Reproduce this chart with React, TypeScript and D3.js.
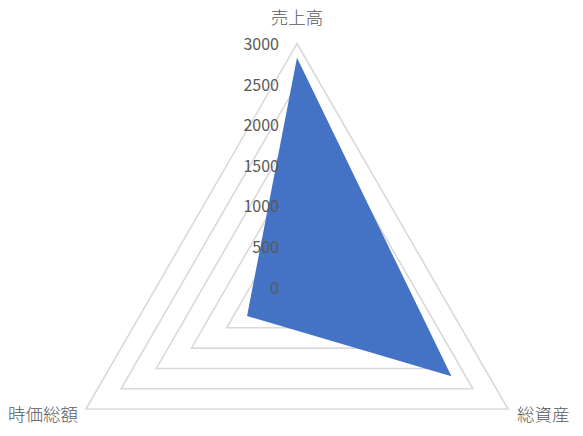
import React from "react";
import * as d3 from "d3";

const categories = ["売上高", "総資産", "時価総額"];
const values = [2825, 2195, 710];
const tickValues = [0, 500, 1000, 1500, 2000, 2500, 3000];

const W = 583;
const H = 436;
const cx = 297;
const cy = 287.2;
const R = 243.7;

export default function App() {
  const r = d3.scaleLinear().domain([0, 3000]).range([0, R]);
  const angle = d3
    .scaleLinear()
    .domain([0, categories.length])
    .range([-Math.PI / 2, (3 * Math.PI) / 2]);
  const pt = (i: number, v: number): [number, number] => [
    cx + r(v) * Math.cos(angle(i)),
    cy + r(v) * Math.sin(angle(i)),
  ];
  const line = d3.line().curve(d3.curveLinearClosed);
  const gridLevels = tickValues.filter((t) => t > 0);
  const font = "'Noto Sans CJK JP', 'Noto Sans', sans-serif";
  const labelPos = [
    { x: cx, y: 17, anchor: "middle" },
    { x: 517, y: 414, anchor: "start" },
    { x: 78, y: 414, anchor: "end" },
  ];
  return (
    <svg
      width={W}
      height={H}
      style={{ position: "absolute", left: 0, top: 0, background: "#fff" }}
    >
      {gridLevels.map((t) => (
        <path
          key={t}
          d={line(categories.map((_, i) => pt(i, t))) || ""}
          fill="none"
          stroke="#d9d9d9"
          strokeWidth={1.6}
        />
      ))}
      <path
        d={line(values.map((v, i) => pt(i, v))) || ""}
        fill="#4472C4"
        stroke="none"
      />
      {tickValues.map((t) => (
        <text
          key={t}
          x={279}
          y={cy - r(t)}
          dy="0.4em"
          textAnchor="end"
          fontFamily={font}
          fontSize={16}
          fill="#595959"
        >
          {t}
        </text>
      ))}
      {categories.map((c, i) => (
        <text
          key={c}
          x={labelPos[i].x}
          y={labelPos[i].y}
          dy="0.38em"
          textAnchor={labelPos[i].anchor as any}
          fontFamily={font}
          fontSize={17.5}
          fontWeight={300}
          fill="#595959"
        >
          {c}
        </text>
      ))}
    </svg>
  );
}
